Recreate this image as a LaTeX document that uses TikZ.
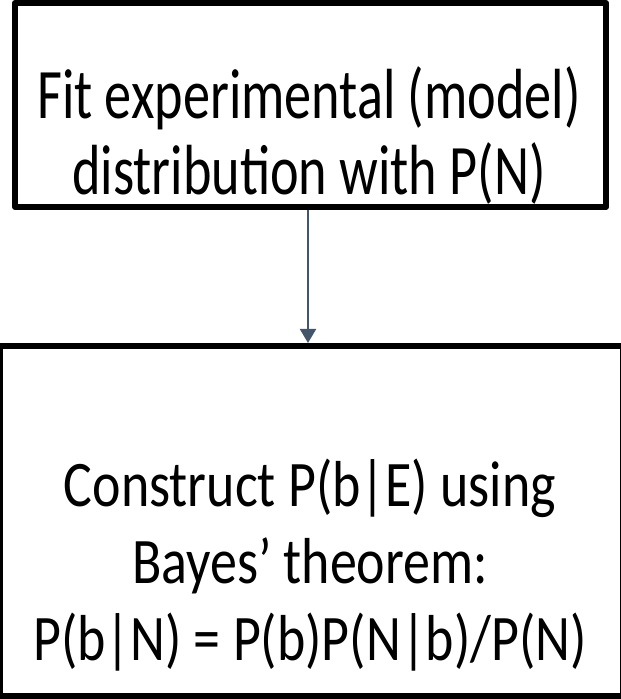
\documentclass[tikz,border=0pt]{standalone}
\usepackage{fontspec}
\setmainfont{Carlito}
\usetikzlibrary{arrows.meta}
\definecolor{arrowcol}{HTML}{44546A}
\tikzset{
  boxframe/.style={draw=black, line width=6pt, line join=round, inner sep=0pt, anchor=south west},
  boxtext/.style={align=center, inner sep=0pt, anchor=base, transform shape},
  flowarrow/.style={draw=arrowcol, line width=2pt, -{Triangle[width=16pt,length=14pt]}}
}
\begin{document}
\begin{tikzpicture}[x=1pt,y=1pt]
\useasboundingbox (0,0) rectangle (621,699);
\clip (0,0) rectangle (621,699);
\node[boxframe, minimum width=591pt, minimum height=204pt] (top) at (12,489) {};
\node[boxframe, minimum width=623pt, minimum height=350pt] (bot) at (-3,0) {};
\begin{scope}[shift={(309,504)}, xscale=0.764]
\node[boxtext, font=\fontsize{71}{76}\selectfont] (toptext) at (0,0)
  {Fit experimental (model)\\distribution with P(N)};
\end{scope}
\begin{scope}[shift={(310,38)}, xscale=0.83]
\node[boxtext, font=\fontsize{65}{77}\selectfont] (bottext) at (0,0)
  {Construct P(b|E) using\\Bayes’ theorem:\\P(b|N) = P(b)P(N|b)/P(N)};
\end{scope}
\draw[flowarrow] (top.south -| 308,0) -- (bot.north -| 308,0);
\end{tikzpicture}
\end{document}
